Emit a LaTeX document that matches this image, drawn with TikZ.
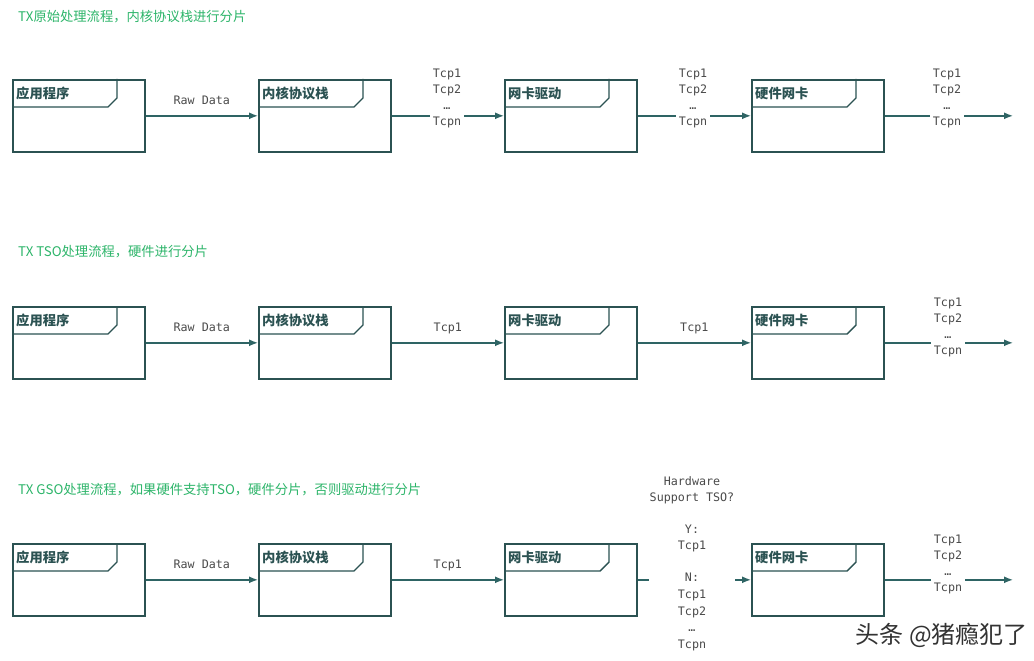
\documentclass[tikz,border=0pt]{standalone}
\usepackage{fontspec}
\setmainfont{DejaVu Sans}
\newfontfamily\cjk{Noto Sans CJK SC}
\newfontfamily\mono{DejaVu Sans Mono}
\usetikzlibrary{arrows.meta}
\definecolor{boxc}{HTML}{2B5252}
\definecolor{arrc}{HTML}{2E6464}
\definecolor{titc}{HTML}{2DB56A}
\definecolor{lblc}{HTML}{4A4A4A}
\definecolor{wmc}{HTML}{333333}
\tikzset{
  proc/.style={draw=boxc, line width=1.6pt, minimum width=132pt, minimum height=72pt, inner sep=0pt, anchor=north west},
  proclbl/.style={font=\cjk\bfseries\fontsize{13.3}{15}\selectfont, text=boxc, anchor=west, inner sep=0pt},
  tabline/.style={draw=boxc, line width=1.4pt},
  flow/.style={draw=arrc, line width=1.5pt},
  flowa/.style={flow, -{Latex[length=9pt,width=7pt]}},
  lbl/.style={font=\mono\fontsize{11.7}{16}\selectfont, text=lblc, align=center, inner sep=0pt},
  ttl/.style={font=\cjk\fontsize{13.3}{15}\selectfont, text=titc, anchor=west, inner sep=0pt},
}
\newcommand\procbox[4]{%
  \node[proc] (#1) at (#2,#3) {};
  \draw[tabline] ([yshift=-28pt]#1.north west) -- ++(96pt,0pt) -- ++(9pt,9pt) -- ([xshift=105pt]#1.north west);
  \node[proclbl] (#1l) at ([xshift=4pt,yshift=-14pt]#1.north west) {#4};
}
\begin{document}
\begin{tikzpicture}[x=1pt,y=-1pt]
\useasboundingbox[fill=white] (0,0) rectangle (1034,661);

% ---------- Row 1 ----------
\node[ttl] (t1) at (18,17) {TX原始处理流程，内核协议栈进行分片};
\procbox{a1}{12}{79}{应用程序}
\procbox{b1}{258}{79}{内核协议栈}
\procbox{c1}{504}{79}{网卡驱动}
\procbox{d1}{751}{79}{硬件网卡}
\draw[flowa] (a1) -- node[lbl, above=10pt] (rd1) {Raw Data} (b1);
\node[lbl] (s11) at (447,98.5) {Tcp1\\Tcp2\\…\\Tcpn};
\node[lbl] (s12) at (693,98.5) {Tcp1\\Tcp2\\…\\Tcpn};
\node[lbl] (s13) at (947,98.5) {Tcp1\\Tcp2\\…\\Tcpn};
\coordinate (e1) at (1013,114);
\draw[flow] (b1) -- ([xshift=-3pt]s11.west |- b1.east);
\draw[flowa] ([xshift=3pt]s11.east |- c1.west) -- (c1);
\draw[flow] (c1) -- ([xshift=-3pt]s12.west |- c1.east);
\draw[flowa] ([xshift=3pt]s12.east |- d1.west) -- (d1);
\draw[flow] (d1) -- ([xshift=-3pt]s13.west |- d1.east);
\draw[flowa] ([xshift=3pt]s13.east |- d1.east) -- (e1 |- d1.east);

% ---------- Row 2 ----------
\node[ttl] (t2) at (18,252) {TX TSO处理流程，硬件进行分片};
\procbox{a2}{12}{306}{应用程序}
\procbox{b2}{258}{306}{内核协议栈}
\procbox{c2}{504}{306}{网卡驱动}
\procbox{d2}{751}{306}{硬件网卡}
\draw[flowa] (a2) -- node[lbl, above=10pt] (rd2) {Raw Data} (b2);
\draw[flowa] (b2) -- node[lbl, above=8pt] (p21) {Tcp1} (c2);
\draw[flowa] (c2) -- node[lbl, above=8pt] (p22) {Tcp1} (d2);
\node[lbl] (s23) at (948,327) {Tcp1\\Tcp2\\…\\Tcpn};
\coordinate (e2) at (1013,342);
\draw[flow] (d2) -- ([xshift=-3pt]s23.west |- d2.east);
\draw[flowa] ([xshift=3pt]s23.east |- d2.east) -- (e2 |- d2.east);

% ---------- Row 3 ----------
\node[ttl] (t3) at (18,490) {TX GSO处理流程，如果硬件支持TSO，硬件分片，否则驱动进行分片};
\procbox{a3}{12}{543}{应用程序}
\procbox{b3}{258}{543}{内核协议栈}
\procbox{c3}{504}{543}{网卡驱动}
\procbox{d3}{751}{543}{硬件网卡}
\draw[flowa] (a3) -- node[lbl, above=10pt] (rd3) {Raw Data} (b3);
\draw[flowa] (b3) -- node[lbl, above=8pt] (p31) {Tcp1} (c3);
\node[lbl] (h3) at (692,490) {Hardware\\Support TSO?};
\node[lbl] (y3) at (692,538) {Y:\\Tcp1};
\node[lbl, font=\mono\fontsize{11.7}{16.6}\selectfont] (n3) at (692,612) {N:\\Tcp1\\Tcp2\\…\\Tcpn};
\draw[flow] (c3) -- ([xshift=-1pt]h3.west |- c3.east);
\draw[flowa] ([xshift=1pt]h3.east |- d3.west) -- (d3);
\node[lbl] (s33) at (948,564.5) {Tcp1\\Tcp2\\…\\Tcpn};
\coordinate (e3) at (1013,580);
\draw[flow] (d3) -- ([xshift=-3pt]s33.west |- d3.east);
\draw[flowa] ([xshift=3pt]s33.east |- d3.east) -- (e3 |- d3.east);

% watermark
\node[font=\cjk\fontsize{24}{26}\selectfont, text=wmc, anchor=east, inner sep=0pt] (wm) at (1028,635) {头条 @猪瘾犯了};
\end{tikzpicture}
\end{document}
